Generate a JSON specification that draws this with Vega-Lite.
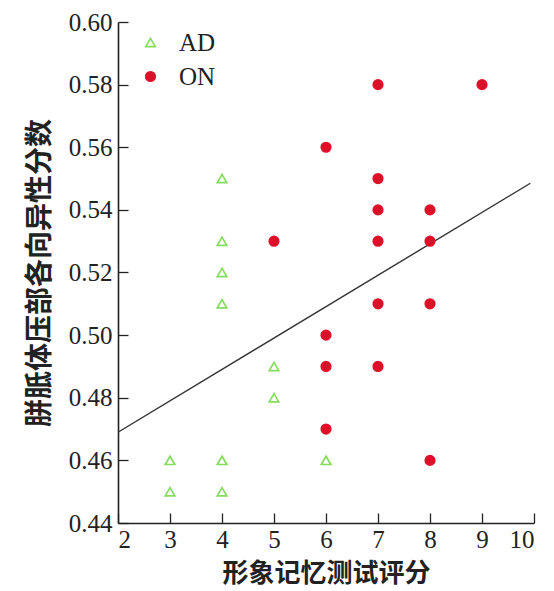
{
  "$schema": "https://vega.github.io/schema/vega-lite/v6.json",
  "autosize": {"type": "none"},
  "width": 416,
  "height": 501,
  "padding": {"left": 118, "top": 22, "right": 20, "bottom": 68},
  "background": "white",
  "config": {
    "view": {"stroke": null},
    "axis": {
      "domainColor": "#222",
      "domainWidth": 1.6,
      "tickColor": "#222",
      "tickWidth": 1.3,
      "grid": false,
      "labelFont": "Liberation Serif",
      "labelFontSize": 25,
      "labelColor": "#222",
      "titleFont": "Noto Sans CJK SC",
      "titleFontWeight": "bold",
      "titleColor": "#222"
    },
    "legend": {"padding": 0, "symbolOpacity": 1}
  },
  "datasets": {
    "pts": [
      {"group": "AD", "score": 4, "fa": 0.55},
      {"group": "AD", "score": 4, "fa": 0.53},
      {"group": "AD", "score": 4, "fa": 0.52},
      {"group": "AD", "score": 4, "fa": 0.51},
      {"group": "AD", "score": 5, "fa": 0.49},
      {"group": "AD", "score": 5, "fa": 0.48},
      {"group": "AD", "score": 3, "fa": 0.46},
      {"group": "AD", "score": 3, "fa": 0.45},
      {"group": "AD", "score": 4, "fa": 0.46},
      {"group": "AD", "score": 4, "fa": 0.45},
      {"group": "AD", "score": 6, "fa": 0.46},
      {"group": "ON", "score": 7, "fa": 0.58},
      {"group": "ON", "score": 9, "fa": 0.58},
      {"group": "ON", "score": 6, "fa": 0.56},
      {"group": "ON", "score": 7, "fa": 0.55},
      {"group": "ON", "score": 7, "fa": 0.54},
      {"group": "ON", "score": 8, "fa": 0.54},
      {"group": "ON", "score": 5, "fa": 0.53},
      {"group": "ON", "score": 7, "fa": 0.53},
      {"group": "ON", "score": 8, "fa": 0.53},
      {"group": "ON", "score": 7, "fa": 0.51},
      {"group": "ON", "score": 8, "fa": 0.51},
      {"group": "ON", "score": 6, "fa": 0.50},
      {"group": "ON", "score": 6, "fa": 0.49},
      {"group": "ON", "score": 7, "fa": 0.49},
      {"group": "ON", "score": 6, "fa": 0.47},
      {"group": "ON", "score": 8, "fa": 0.46}
    ],
    "fit": [
      {"score": 2, "fa": 0.469},
      {"score": 9.93, "fa": 0.5485}
    ]
  },
  "layer": [
    {
      "data": {"name": "fit"},
      "mark": {"type": "line", "color": "#333", "strokeWidth": 1.4, "clip": true},
      "encoding": {
        "x": {"field": "score", "type": "quantitative"},
        "y": {"field": "fa", "type": "quantitative"}
      }
    },
    {
      "data": {"name": "pts"},
      "mark": {"type": "point", "size": 90, "strokeWidth": 1.7, "opacity": 1},
      "encoding": {
        "x": {
          "field": "score", "type": "quantitative",
          "scale": {"domain": [2, 10], "nice": false, "zero": false},
          "axis": {"values": [2,3,4,5,6,7,8,9,10], "tickSize": -10, "labelPadding": 14, "title": "形象记忆测试评分", "titleFontSize": 26, "titlePadding": 8}
        },
        "y": {
          "field": "fa", "type": "quantitative",
          "scale": {"domain": [0.44, 0.60], "nice": false, "zero": false},
          "axis": {"values": [0.44,0.46,0.48,0.50,0.52,0.54,0.56,0.58,0.60], "format": ".2f", "tickSize": -10, "labelPadding": 16, "title": "胼胝体压部各向异性分数", "titleFontSize": 28, "titlePadding": 14}
        },
        "shape": {
          "field": "group", "type": "nominal",
          "scale": {"domain": ["AD", "ON"], "range": ["triangle-up", "circle"]},
          "legend": {
            "orient": "none", "legendX": 20, "legendY": 8, "title": null,
            "labelFont": "Liberation Serif", "labelFontSize": 25, "labelColor": "#222",
            "symbolSize": 90, "rowPadding": 8, "labelOffset": 16, "symbolStrokeWidth": 1.7
          }
        },
        "color": {
          "field": "group", "type": "nominal",
          "scale": {"domain": ["AD", "ON"], "range": ["#86dc5e", "#dd1029"]},
          "legend": {
            "orient": "none", "legendX": 20, "legendY": 8, "title": null,
            "labelFont": "Liberation Serif", "labelFontSize": 25, "labelColor": "#222",
            "symbolSize": 90, "rowPadding": 8, "labelOffset": 16, "symbolStrokeWidth": 1.7
          }
        },
        "fill": {
          "field": "group", "type": "nominal",
          "scale": {"domain": ["AD", "ON"], "range": ["transparent", "#dd1029"]},
          "legend": {
            "orient": "none", "legendX": 20, "legendY": 8, "title": null,
            "labelFont": "Liberation Serif", "labelFontSize": 25, "labelColor": "#222",
            "symbolSize": 90, "rowPadding": 8, "labelOffset": 16, "symbolStrokeWidth": 1.7
          }
        },
        "fillOpacity": {"value": 1}
      }
    }
  ]
}
